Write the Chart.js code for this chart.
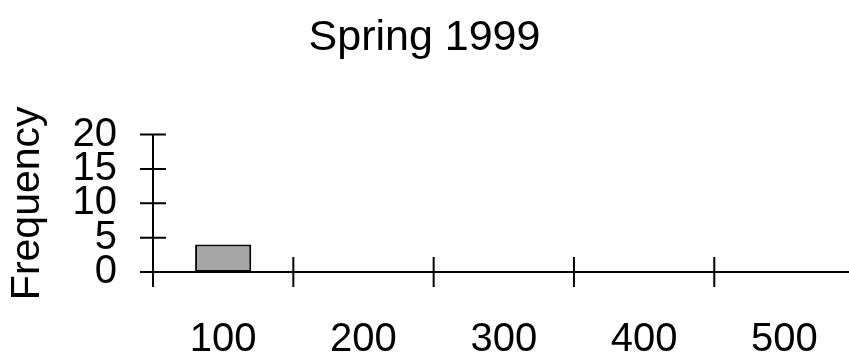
<!DOCTYPE html>
<html>
<head>
<meta charset="utf-8">
<script src="https://cdn.jsdelivr.net/npm/chart.js@4/dist/chart.umd.min.js"></script>
<style>
  html, body { margin: 0; padding: 0; background: #fff; }
  canvas { display: block; }
</style>
</head>
<body>
<canvas id="hist" width="849" height="356"></canvas>
<script>
// Histogram: bin centres, counts, edges where the axis ticks go
const binCenters = [100, 200, 300, 400, 500];
const counts = [4, 0, 0, 0, 0];
const binEdges = [50, 150, 250, 350, 450];
const xRange = [50, 546];
const yTicks = [0, 5, 10, 15, 20];

const fontFamily = "'Liberation Sans', Arial, Helvetica, sans-serif";

// axis lines with tick marks that cross the line, like the old stats packages
const crossAxes = {
  id: "crossAxes",
  afterDraw(chart) {
    const { ctx, chartArea, scales } = chart;
    const x = scales.x, y = scales.y;
    const y0 = y.getPixelForValue(0);
    const left = chartArea.left;
    ctx.save();
    ctx.strokeStyle = "#000";
    ctx.lineWidth = 2;
    ctx.beginPath();
    // y axis
    ctx.moveTo(left, y.getPixelForValue(yTicks[yTicks.length - 1]));
    ctx.lineTo(left, y0);
    yTicks.forEach((v) => {
      const py = y.getPixelForValue(v);
      ctx.moveTo(left - 13, py);
      ctx.lineTo(left + 13, py);
    });
    // x axis
    ctx.moveTo(left - 13, y0);
    ctx.lineTo(chartArea.right, y0);
    binEdges.forEach((v) => {
      const px = x.getPixelForValue(v);
      ctx.moveTo(px, y0 - 15);
      ctx.lineTo(px, y0 + 15);
    });
    ctx.stroke();
    ctx.restore();
  },
};

new Chart(document.getElementById("hist"), {
  type: "bar",
  data: {
    datasets: [
      {
        data: binCenters.map((c, i) => ({ x: c, y: counts[i] })),
        backgroundColor: "#a6a6a6",
        borderColor: "#000",
        borderWidth: 2,
        borderSkipped: false,
        barPercentage: 0.4,
        categoryPercentage: 1,
      },
    ],
  },
  options: {
    responsive: false,
    animation: false,
    layout: { padding: 0 },
    plugins: {
      legend: { display: false },
      tooltip: { enabled: false },
      title: {
        display: true,
        text: "Spring 1999",
        color: "#000",
        font: { family: fontFamily, size: 43, weight: "normal" },
        padding: { top: 12, bottom: 71 },
      },
    },
    scales: {
      x: {
        type: "linear",
        offset: false,
        min: xRange[0],
        max: xRange[1],
        grid: { display: false },
        border: { display: false },
        afterBuildTicks(scale) {
          scale.ticks = binCenters.map((v) => ({ value: v }));
        },
        afterFit(scale) {
          scale.height = 84;
          // axis runs to the canvas edge, labels never reach it
          scale.paddingLeft = 0;
          scale.paddingRight = 0;
        },
        ticks: {
          color: "#000",
          padding: 36,
          maxRotation: 0,
          autoSkip: false,
          font: { family: fontFamily, size: 40 },
        },
      },
      y: {
        min: 0,
        max: 20,
        grid: { display: false },
        border: { display: false },
        afterBuildTicks(scale) {
          scale.ticks = yTicks.map((v) => ({ value: v }));
        },
        afterFit(scale) {
          scale.width = 153;
        },
        ticks: {
          color: "#000",
          padding: 28,
          autoSkip: false,
          font: { family: fontFamily, size: 40 },
        },
        title: {
          display: true,
          text: "Frequency",
          color: "#000",
          padding: { top: 3, bottom: 0 },
          font: { family: fontFamily, size: 41 },
        },
      },
    },
  },
  plugins: [crossAxes],
});
</script>
</body>
</html>
